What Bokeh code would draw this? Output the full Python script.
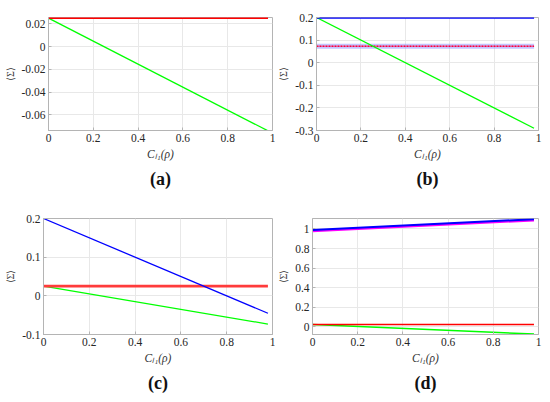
from bokeh.embed import file_html
from bokeh.layouts import column, row
from bokeh.models import FixedTicker, PrintfTickFormatter
from bokeh.plotting import figure
from bokeh.resources import INLINE

# x end points of every curve (the curves are straight lines)
x_ends = [0, 0.98]
x_ticks = [0, 0.2, 0.4, 0.6, 0.8, 1]

# (a)
a_red = [0.025, 0.025]
a_green = [0.025, -0.074]
a_ticks = [-0.06, -0.04, -0.02, 0, 0.02]

# (b)
b_blue = [0.2, 0.2]
b_green = [0.2, -0.29]
b_red = [0.073, 0.073]
b_ticks = [-0.3, -0.2, -0.1, 0, 0.1, 0.2]

# (c)
c_blue = [0.2, -0.045]
c_red = [0.025, 0.025]
c_green = [0.025, -0.073]
c_ticks = [-0.1, 0, 0.1, 0.2]

# (d)
d_blue = [0.99, 1.1]
d_magenta = [0.98, 1.09]
d_red = [0.025, 0.025]
d_green = [0.025, -0.074]
d_ticks = [0, 0.2, 0.4, 0.6, 0.8, 1]

SERIF = "Liberation Serif"
GREY = "#b4b4b4"


def panel(caption, y_range, y_ticks, borders, w, h):
    left, right, top, bottom = borders
    p = figure(
        width=w, height=h, x_range=(0, 1), y_range=y_range,
        output_backend="svg", toolbar_location=None,
        min_border_left=left, min_border_right=right,
        min_border_top=top, min_border_bottom=bottom,
        title=caption, title_location="below",
    )
    p.title.align = "center"
    p.title.text_font = SERIF
    p.title.text_font_size = "18px"
    p.title.text_font_style = "bold"
    p.title.text_color = "#111111"
    p.title.standoff = 8

    p.outline_line_color = GREY
    p.xaxis.ticker = FixedTicker(ticks=x_ticks)
    p.yaxis.ticker = FixedTicker(ticks=y_ticks)
    for ax in (p.xaxis, p.yaxis):
        ax.formatter = PrintfTickFormatter(format="%g")
        ax.axis_line_color = GREY
        ax.major_tick_line_color = GREY
        ax.major_tick_in = 3
        ax.major_tick_out = 0
        ax.minor_tick_line_color = None
        ax.major_label_text_font = SERIF
        ax.major_label_text_font_size = "11.5px"
        ax.major_label_text_color = "#262626"
        ax.major_label_standoff = 3
        ax.axis_label_text_font = SERIF
        ax.axis_label_text_font_size = "11.5px"
        ax.axis_label_text_font_style = "italic"
        ax.axis_label_text_color = "#333333"
        ax.axis_label_standoff = 3
    p.xaxis.axis_label = "C\u2097\u2081(\u03c1)"
    p.yaxis.axis_label = "\u27e8\u03a3\u27e9"
    p.yaxis.axis_label_text_font_style = "normal"
    p.yaxis.axis_label_text_font_size = "10px"
    p.yaxis.axis_label_standoff = 3
    p.grid.grid_line_color = "#e8e8e8"
    p.xgrid.ticker = FixedTicker(ticks=x_ticks)
    p.ygrid.ticker = FixedTicker(ticks=y_ticks)
    return p


pa = panel("(a)", (-0.0737, 0.0255), a_ticks, (48, 3, 17, 70), 275, 201)
pa.line(x_ends, a_green, line_color="#00ff00", line_width=1.3)
pa.line(x_ends, a_red, line_color="#ff0000", line_width=2)

pb = panel("(b)", (-0.3, 0.2), b_ticks, (38, 12, 17, 71), 275, 201)
pb.line(x_ends, b_red, line_color="#8c8cff", line_width=5, line_alpha=0.5)
pb.line(x_ends, b_red, line_color="#ff0000", line_width=1.6, line_dash="2 1")
pb.line(x_ends, b_red, line_color="#ff00ff", line_width=1, line_dash="1 2", line_alpha=0.7)
pb.line(x_ends, b_green, line_color="#00ff00", line_width=1.3)
pb.line(x_ends, b_blue, line_color="#0000ff", line_width=2.5)

pc = panel("(c)", (-0.1, 0.2), c_ticks, (43, 3, 17, 68), 275, 201)
pc.line(x_ends, c_green, line_color="#00ff00", line_width=1.3)
pc.line(x_ends, c_red, line_color="#ff3b3b", line_width=2.8)
pc.line(x_ends, c_blue, line_color="#0000ff", line_width=1.3)

pd = panel("(d)", (-0.078, 1.107), d_ticks, (31, 12, 16, 67), 275, 201)
pd.line(x_ends, d_green, line_color="#00ff00", line_width=1.5)
pd.line(x_ends, d_red, line_color="#ff0000", line_width=1.5)
pd.line(x_ends, d_magenta, line_color="#ff00ff", line_width=2.5)
pd.line(x_ends, d_blue, line_color="#0000ff", line_width=2)

page = column(row(pa, pb), row(pc, pd))
open("out.html", "w").write(file_html(page, INLINE))
